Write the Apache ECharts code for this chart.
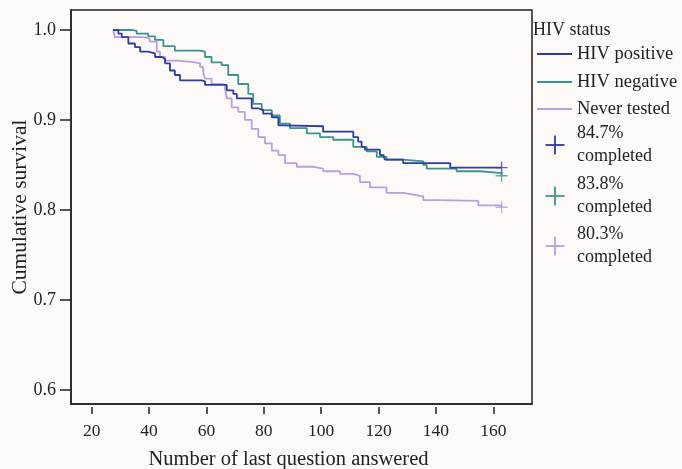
<!DOCTYPE html>
<html>
<head>
<meta charset="utf-8">
<script src="https://cdn.jsdelivr.net/npm/echarts@6/dist/echarts.min.js"></script>
<style>
html,body{margin:0;padding:0;background:#fcf9f7;}
#c{width:682px;height:469px;}
</style>
</head>
<body>
<div id="c"></div>
<script>
// ---- data ----
const xTicks = [20, 40, 60, 80, 100, 120, 140, 160];
const yTicks = [0.6, 0.7, 0.8, 0.9, 1.0];
const seriesNames = ['HIV positive', 'HIV negative', 'Never tested'];
const completedLabels = ['84.7%', '83.8%', '80.3%'];

const posQ = [27.5, 29.3, 30.5, 32.8, 35.1, 36.9, 39.7, 42.1, 44.4, 45.6, 47.3, 49.0, 50.8, 58.4, 59.5, 67.1, 69.4, 70.6, 75.8, 78.1, 79.8, 82.8, 85.1, 87.0, 100.7, 111.2, 112.9, 114.1, 115.3, 120.5, 121.7, 122.2, 128.6, 145.0, 162.9];
const posS = [1.0, 0.996, 0.992, 0.985, 0.981, 0.976, 0.974, 0.970, 0.968, 0.963, 0.955, 0.950, 0.944, 0.943, 0.939, 0.933, 0.929, 0.924, 0.913, 0.911, 0.907, 0.903, 0.894, 0.893, 0.887, 0.881, 0.876, 0.870, 0.867, 0.861, 0.859, 0.856, 0.852, 0.847, 0.847];

const negQ = [27.5, 34.0, 35.7, 39.7, 42.1, 45.0, 49.0, 57.8, 59.5, 61.8, 65.3, 67.6, 71.1, 74.6, 76.3, 79.3, 82.8, 85.6, 89.1, 95.0, 99.6, 104.2, 111.2, 115.9, 119.4, 122.8, 128.6, 135.6, 136.8, 147.2, 155.4, 162.9];
const negS = [1.0, 0.999, 0.996, 0.993, 0.989, 0.982, 0.977, 0.976, 0.970, 0.964, 0.961, 0.950, 0.940, 0.929, 0.918, 0.911, 0.905, 0.896, 0.891, 0.885, 0.881, 0.878, 0.870, 0.865, 0.859, 0.856, 0.854, 0.850, 0.846, 0.843, 0.841, 0.838];

const nevQ = [27.5, 28.1, 38.6, 40.3, 42.7, 43.8, 45.6, 50.2, 56.0, 57.8, 58.9, 59.5, 61.8, 65.3, 66.5, 67.1, 68.8, 71.1, 73.4, 75.8, 78.1, 80.4, 82.8, 85.1, 87.4, 91.5, 97.3, 100.7, 106.6, 111.2, 113.5, 117.0, 122.8, 128.6, 132.1, 135.6, 141.4, 154.8, 162.9];
const nevS = [1.0, 0.992, 0.990, 0.987, 0.976, 0.970, 0.966, 0.964, 0.963, 0.959, 0.953, 0.946, 0.940, 0.939, 0.935, 0.924, 0.914, 0.909, 0.900, 0.890, 0.881, 0.874, 0.866, 0.861, 0.852, 0.848, 0.846, 0.843, 0.840, 0.838, 0.831, 0.825, 0.819, 0.817, 0.815, 0.811, 0.810, 0.805, 0.803];

// ---- build ----
const colors = ['#2f3ca2', '#3a958f', '#b89fe0'];
const FONT = '"Liberation Serif", "DejaVu Serif", serif';
const TXT = '#1f1f1f';
const zip = (a, b) => a.map((v, i) => [v, b[i]]);
const allQ = [posQ, negQ, nevQ];
const allS = [posS, negS, nevS];
const plusPath = 'path://M4.45,0h1.1v10h-1.1z M0,4.45h10v1.1h-10z';

const series = [];
for (let i = 0; i < 3; i++) {
  series.push({
    name: seriesNames[i], type: 'line', step: 'end', showSymbol: false,
    data: zip(allQ[i], allS[i]), lineStyle: { color: colors[i], width: 1.8 },
    silent: true, animation: false, z: 3 - i
  });
  const n = allQ[i].length - 1;
  series.push({
    name: completedLabels[i] + ' completed', type: 'scatter', symbol: plusPath, symbolSize: 12,
    data: [[allQ[i][n], allS[i][n]]], itemStyle: { color: colors[i] }, silent: true, animation: false, z: 5
  });
}

const graphics = [];
graphics.push({ type: 'text', x: 533, y: 30, style: { text: 'HIV status', font: '18px ' + FONT, fill: TXT, verticalAlign: 'middle' } });
const lineY = [54, 82, 109];
for (let i = 0; i < 3; i++) {
  graphics.push({ type: 'line', shape: { x1: 537, y1: lineY[i], x2: 572, y2: lineY[i] }, style: { stroke: colors[i], lineWidth: 1.8 } });
  graphics.push({ type: 'text', x: 577, y: lineY[i], style: { text: seriesNames[i], font: '18.5px ' + FONT, fill: TXT, verticalAlign: 'middle' } });
}
const plusY = [145, 196, 246];
const pctY = [133, 184, 234];
for (let i = 0; i < 3; i++) {
  const cx = 555, cy = plusY[i], h = 9.5;
  graphics.push({ type: 'line', shape: { x1: cx - h, y1: cy, x2: cx + h, y2: cy }, style: { stroke: colors[i], lineWidth: 1.8 } });
  graphics.push({ type: 'line', shape: { x1: cx, y1: cy - h, x2: cx, y2: cy + h }, style: { stroke: colors[i], lineWidth: 1.8 } });
  graphics.push({ type: 'text', x: 577, y: pctY[i], style: { text: completedLabels[i], font: '18px ' + FONT, fill: TXT, verticalAlign: 'middle' } });
  graphics.push({ type: 'text', x: 577, y: pctY[i] + 23, style: { text: 'completed', font: '18px ' + FONT, fill: TXT, verticalAlign: 'middle' } });
}

const chart = echarts.init(document.getElementById('c'), null, { renderer: 'canvas' });
chart.setOption({
  backgroundColor: '#fcf9f7',
  animation: false,
  grid: { left: 71, right: 150, top: 10, bottom: 65, containLabel: false, outerBoundsMode: 'none',
    show: true, borderColor: '#222', borderWidth: 1.5, backgroundColor: 'transparent' },
  xAxis: [
    { type: 'value', min: 12.8, max: 173.5, position: 'bottom',
      axisLine: { show: true, lineStyle: { color: '#222', width: 1.5 } },
      axisTick: { show: false }, axisLabel: { show: false }, splitLine: { show: false } },
    { type: 'value', min: 12.8, max: 173.5, position: 'bottom', offset: 3,
      axisLine: { show: false },
      axisTick: { show: true, length: 7, customValues: xTicks, lineStyle: { color: '#222', width: 1.5 } },
      axisLabel: { show: true, customValues: xTicks, margin: 15, fontFamily: FONT, fontSize: 17.5, color: TXT },
      splitLine: { show: false },
      name: 'Number of last question answered', nameLocation: 'middle', nameGap: 42,
      nameTextStyle: { fontFamily: FONT, fontSize: 20.5, color: TXT, padding: [0, 26, 0, 0] } }
  ],
  yAxis: {
    type: 'value', min: 0.5844, max: 1.0222,
    axisLine: { show: true, lineStyle: { color: '#222', width: 1.5 } },
    axisTick: { show: true, length: 11, customValues: yTicks, lineStyle: { color: '#222', width: 1.5 } },
    axisLabel: { show: true, customValues: yTicks, margin: 15, fontFamily: FONT, fontSize: 18, color: TXT, formatter: v => v.toFixed(1) },
    splitLine: { show: false },
    name: 'Cumulative survival', nameLocation: 'middle', nameGap: 40, nameRotate: 90, nameMoveOverlap: false,
    nameTextStyle: { fontFamily: FONT, fontSize: 21.5, color: TXT }
  },
  series: series,
  graphic: graphics
});
</script>
</body>
</html>
